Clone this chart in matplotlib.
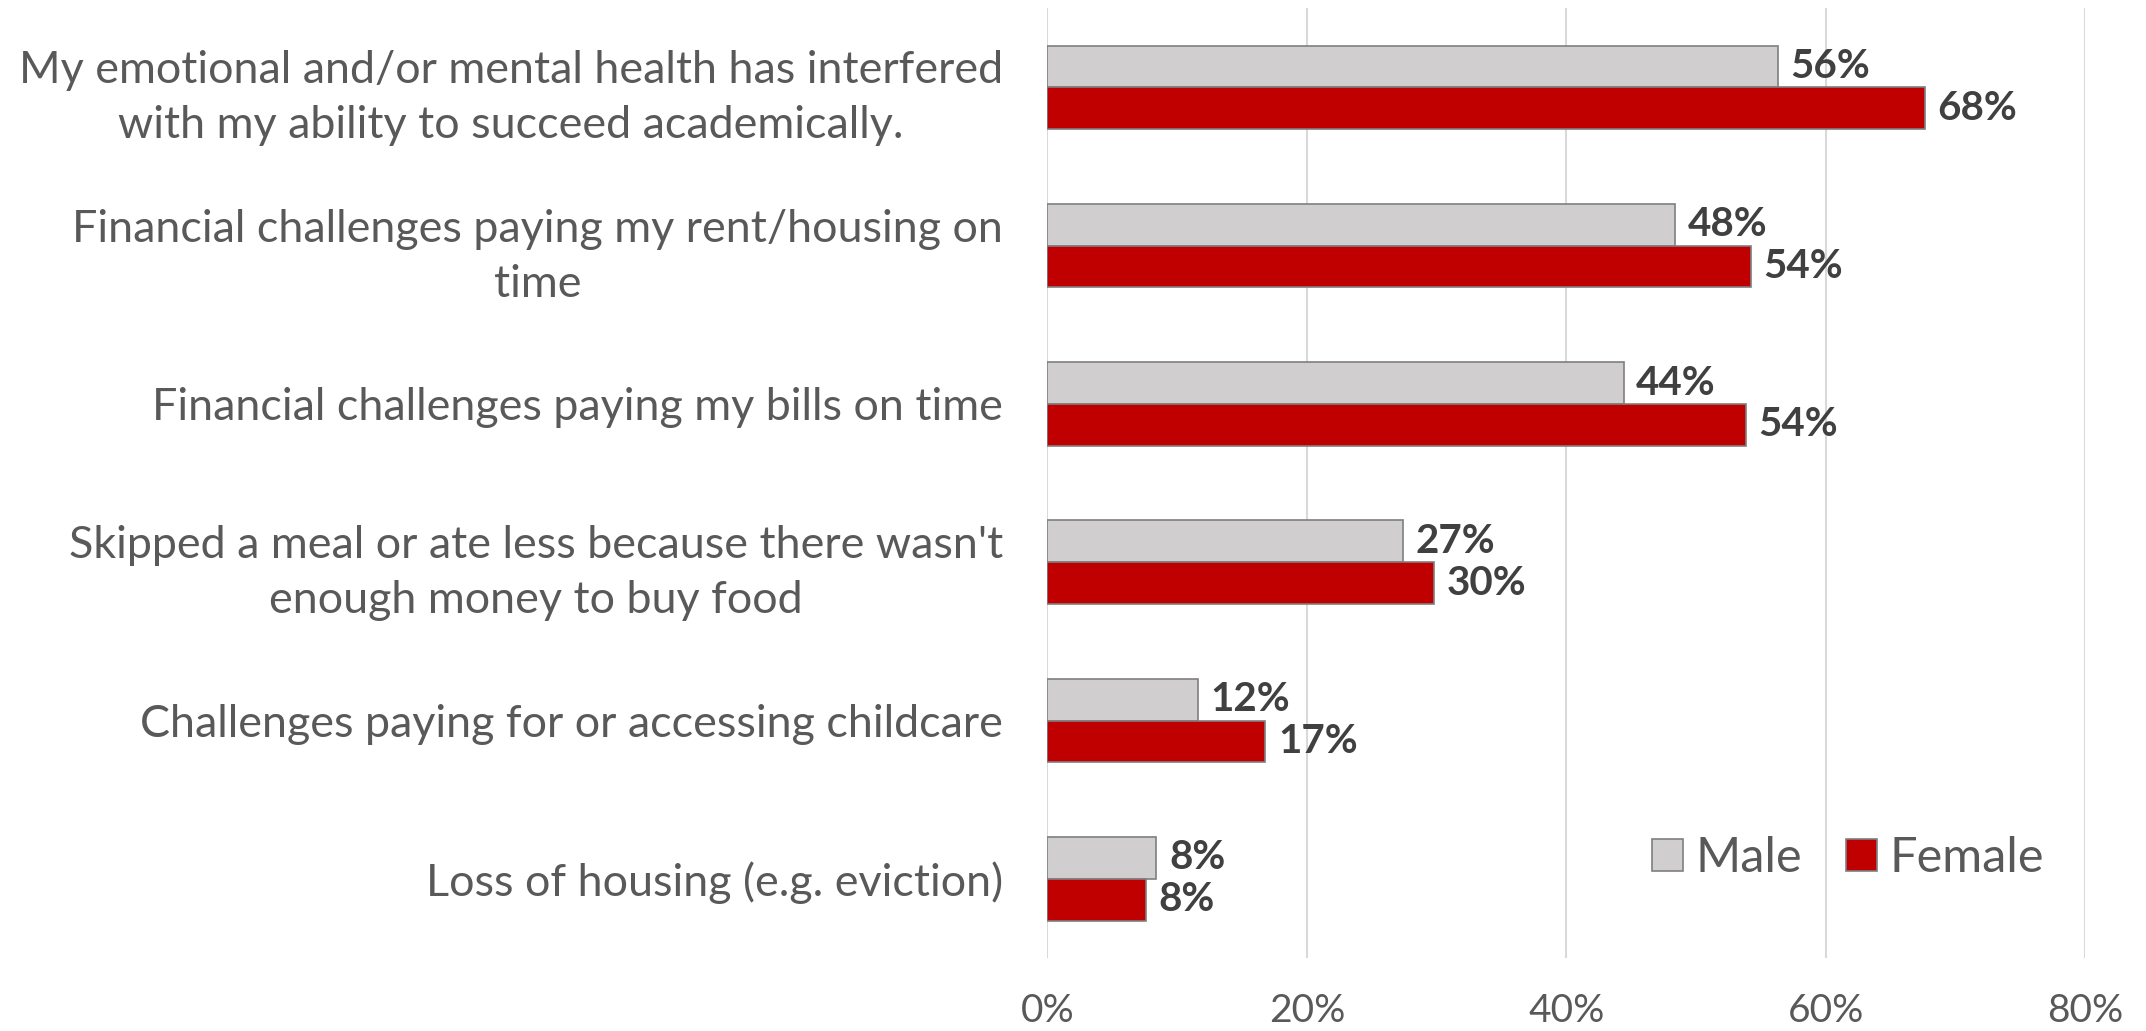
import matplotlib.pyplot as plt
import numpy as np

plt.rcParams['font.family'] = ['Lato', 'DejaVu Sans']

CATEGORIES = [
    'My emotional and/or mental health has interfered\nwith my ability to succeed academically.',
    'Financial challenges paying my rent/housing on\ntime',
    'Financial challenges paying my bills on time',
    "Skipped a meal or ate less because there wasn't\nenough money to buy food",
    'Challenges paying for or accessing childcare',
    'Loss of housing (e.g. eviction)',
]
MALE = [56.3, 48.4, 44.4, 27.4, 11.6, 8.4]
FEMALE = [67.6, 54.2, 53.8, 29.8, 16.8, 7.6]
X_TICKS = [0, 20, 40, 60, 80]

MALE_COLOR = '#D0CECE'
FEMALE_COLOR = '#C00000'
EDGE_COLOR = '#7F7F7F'
TEXT_COLOR = '#595959'
LABEL_COLOR = '#404040'


def main():
  fig = plt.figure(figsize=(21.46, 10.31), dpi=100, facecolor='w')
  ax = fig.add_axes([0.4881, 0.0708, 0.4837, 0.9212])

  y = np.arange(len(CATEGORIES))
  h = 0.264

  male_bars = ax.barh(y - h / 2, MALE, h, color=MALE_COLOR, edgecolor=EDGE_COLOR,
                      linewidth=1.2, label='Male', zorder=3)
  female_bars = ax.barh(y + h / 2, FEMALE, h, color=FEMALE_COLOR, edgecolor=EDGE_COLOR,
                        linewidth=1.2, label='Female', zorder=3)

  for bars, vals in ((male_bars, MALE), (female_bars, FEMALE)):
    for bar, v in zip(bars, vals):
      ax.annotate(f'{v:.0f}%', xy=(bar.get_width(), bar.get_y() + bar.get_height() / 2),
                  xytext=(9, 0), textcoords='offset points', ha='left', va='center',
                  fontsize=29, fontweight='bold', color=LABEL_COLOR)

  ax.set_xlim(0, 80)
  ax.set_ylim(len(CATEGORIES) - 0.5, -0.5)
  ax.set_xticks(X_TICKS, [f'{t}%' for t in X_TICKS])
  ax.set_yticks(y, CATEGORIES)
  ax.tick_params(axis='x', length=0, pad=25, labelsize=28, labelcolor=TEXT_COLOR)
  ax.tick_params(axis='y', length=0, pad=32, labelsize=32.3, labelcolor=TEXT_COLOR)
  plt.setp(ax.get_yticklabels(), multialignment='center', linespacing=1.42)

  for s in ax.spines.values():
    s.set_visible(False)
  ax.grid(axis='x', color='#D9D9D9', linewidth=1.5, zorder=0)
  ax.set_axisbelow(True)

  ax.legend(loc='center', bbox_to_anchor=(0.771, 0.105), ncol=2, frameon=False,
            fontsize=35, handlelength=0.65, handleheight=0.65, handletextpad=0.25,
            columnspacing=0.9, labelcolor=TEXT_COLOR)

  fig.savefig('out.png', dpi=100)


if __name__ == '__main__':
  main()
